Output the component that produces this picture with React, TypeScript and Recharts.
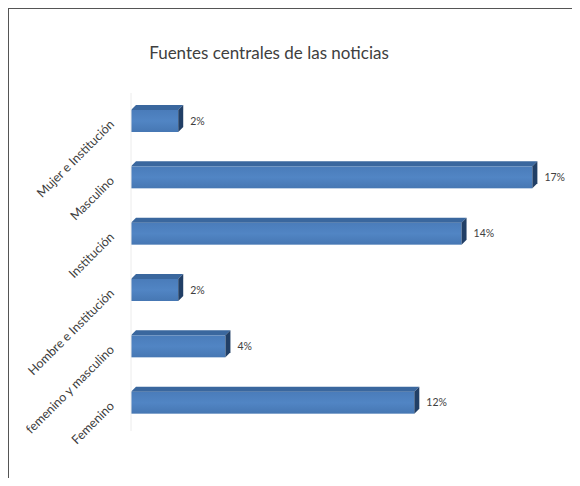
import React from "react";
import { BarChart, Bar, XAxis, YAxis, LabelList, ReferenceLine } from "recharts";

const categories = [
  "Mujer e Institución",
  "Masculino",
  "Institución",
  "Hombre e Institución",
  "femenino y masculino",
  "Femenino",
];
const values = [2, 17, 14, 2, 4, 12];
const xDomain = [0, 18];

const data = categories.map((c, i) => ({ cat: c, v: values[i] }));

const DEPTH = 5;
const FONT = "Lato, 'Open Sans', sans-serif";

function Bar3D(props: any) {
  const { x, y, width, height } = props;
  if (!width || width <= 0) return null;
  const d = DEPTH;
  return (
    <g>
      <rect x={x} y={y} width={width} height={height} fill="url(#frontGrad)" />
      <polygon
        points={`${x},${y} ${x + d},${y - d} ${x + width + d},${y - d} ${x + width},${y}`}
        fill="#3a679e"
      />
      <polygon
        points={`${x + width},${y} ${x + width + d},${y - d} ${x + width + d},${y + height - d} ${x + width},${y + height}`}
        fill="#213f66"
      />
    </g>
  );
}

function CatTick(props: any) {
  const { x, y, payload } = props;
  return (
    <text
      x={x}
      y={y + 4}
      textAnchor="end"
      fontSize={12.5}
      fill="#404040"
      fontFamily={FONT}
      transform={`rotate(-45, ${x}, ${y + 4})`}
    >
      {payload.value}
    </text>
  );
}

export default function App() {
  return (
    <div style={{ position: "relative", width: 580, height: 486, margin: -8, background: "#fff", overflow: "hidden" }}>
      <div
        style={{
          position: "absolute",
          top: 42,
          left: 0,
          width: 538,
          textAlign: "center",
          fontFamily: FONT,
          fontSize: 17,
          color: "#404040",
        }}
      >
        Fuentes centrales de las noticias
      </div>
      <div style={{ position: "absolute", left: 0, top: 0 }}>
        <BarChart
          width={580}
          height={486}
          data={data}
          layout="vertical"
          margin={{ top: 93, right: 24, bottom: 55, left: 11 }}
          barSize={22}
        >
          <defs>
            <linearGradient id="frontGrad" x1="0" y1="0" x2="0" y2="1">
              <stop offset="0%" stopColor="#4a7cba" />
              <stop offset="50%" stopColor="#5185c4" />
              <stop offset="100%" stopColor="#4677b3" />
            </linearGradient>
          </defs>
          <XAxis type="number" domain={xDomain} hide />
          <YAxis
            type="category"
            dataKey="cat"
            width={120}
            axisLine={false}
            tickLine={false}
            tickMargin={10}
            tick={<CatTick />}
          />
          <ReferenceLine x={0} stroke="#ececec" strokeWidth={1} />
          <Bar dataKey="v" shape={<Bar3D />} isAnimationActive={false}>
            <LabelList
              dataKey="v"
              position="right"
              offset={12}
              formatter={(v: any) => `${v}%`}
              style={{ fontSize: 10.5, fill: "#404040", fontFamily: FONT }}
            />
          </Bar>
        </BarChart>
      </div>
      <div style={{ position: "absolute", zIndex: 5, left: 7, top: 8, width: 2, height: 478, background: "#555" }} />
      <div style={{ position: "absolute", zIndex: 5, left: 7, top: 8, width: 573, height: 1, background: "#555" }} />
    </div>
  );
}
